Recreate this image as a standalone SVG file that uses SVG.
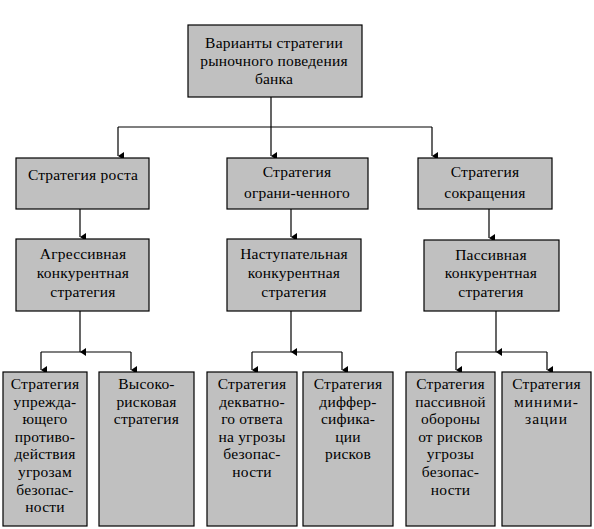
<svg xmlns="http://www.w3.org/2000/svg" width="594" height="529" viewBox="0 0 594 529">
<style>
.box{fill:#C0C0C0;stroke:#000;stroke-width:1.2}
.t{font-family:'Liberation Serif','Times New Roman',serif;font-size:15.5px;letter-spacing:0.2px;fill:#000;text-anchor:middle}
.ln{fill:none;stroke:#000;stroke-width:1.2}
</style>
<defs>
<marker id="ah" markerUnits="userSpaceOnUse" markerWidth="10" markerHeight="8" viewBox="0 0 10 8" refX="5" refY="7" orient="auto-start-reverse">
<path d="M1,1 L9,1 L5,7 Z" fill="#000"/>
</marker>
</defs>
<rect width="594" height="529" fill="#fff"/>
<g id="connectors">
<path class="ln" d="M271,97 V127 M118,127 H432"/>
<path class="ln" d="M118,127 V156" marker-end="url(#ah)"/>
<path class="ln" d="M271,127 V156" marker-end="url(#ah)"/>
<path class="ln" d="M432,127 V156" marker-end="url(#ah)"/>
<path class="ln" d="M80,209 V237" marker-end="url(#ah)"/>
<path class="ln" d="M291,209 V237" marker-end="url(#ah)"/>
<path class="ln" d="M489,209 V238" marker-end="url(#ah)"/>
<path class="ln" d="M80,311 V352" marker-end="url(#ah)"/>
<path class="ln" d="M291,311 V352" marker-end="url(#ah)"/>
<path class="ln" d="M496,311 V352" marker-end="url(#ah)"/>
<path class="ln" d="M41,352 H131 M252,352 H342 M456,352 H547"/>
<path class="ln" d="M41,352 V370" marker-end="url(#ah)"/>
<path class="ln" d="M131,352 V370" marker-end="url(#ah)"/>
<path class="ln" d="M252,352 V370" marker-end="url(#ah)"/>
<path class="ln" d="M342,352 V370" marker-end="url(#ah)"/>
<path class="ln" d="M456,352 V370" marker-end="url(#ah)"/>
<path class="ln" d="M547,352 V370" marker-end="url(#ah)"/>
</g>
<g id="root">
<rect class="box" x="188" y="25" width="174" height="72"/>
<text class="t"><tspan x="274" y="48">Варианты стратегии</tspan><tspan x="274" y="66">рыночного поведения</tspan><tspan x="274" y="84">банка</tspan></text>
</g>
<g id="growth">
<rect class="box" x="16" y="158" width="133" height="51"/>
<text class="t"><tspan x="83" y="180">Стратегия роста</tspan></text>
</g>
<g id="limited">
<rect class="box" x="227" y="158" width="141" height="51"/>
<text class="t"><tspan x="297" y="177">Стратегия</tspan><tspan x="297" y="198">ограни-ченного</tspan></text>
</g>
<g id="reduction">
<rect class="box" x="418" y="158" width="134" height="51"/>
<text class="t"><tspan x="485" y="177">Стратегия</tspan><tspan x="485" y="198">сокращения</tspan></text>
</g>
<g id="aggressive">
<rect class="box" x="16" y="239" width="133" height="72"/>
<text class="t"><tspan x="83" y="259">Агрессивная</tspan><tspan x="83" y="278">конкурентная</tspan><tspan x="83" y="297">стратегия</tspan></text>
</g>
<g id="offensive">
<rect class="box" x="227" y="239" width="134" height="72"/>
<text class="t"><tspan x="294" y="259">Наступательная</tspan><tspan x="294" y="278">конкурентная</tspan><tspan x="294" y="297">стратегия</tspan></text>
</g>
<g id="passive">
<rect class="box" x="424" y="240" width="135" height="71"/>
<text class="t"><tspan x="491" y="260">Пассивная</tspan><tspan x="491" y="278">конкурентная</tspan><tspan x="491" y="297">стратегия</tspan></text>
</g>
<g id="preempt">
<rect class="box" x="3" y="372" width="84" height="154"/>
<text class="t"><tspan x="45" y="389">Стратегия</tspan><tspan x="45" y="406.6">упрежда-</tspan><tspan x="45" y="424.2">ющего</tspan><tspan x="45" y="441.8">противо-</tspan><tspan x="45" y="459.4">действия</tspan><tspan x="45" y="477">угрозам</tspan><tspan x="45" y="494.6">безопас-</tspan><tspan x="45" y="512.2">ности</tspan></text>
</g>
<g id="highrisk">
<rect class="box" x="99" y="372" width="95" height="154"/>
<text class="t"><tspan x="146.5" y="389">Высоко-</tspan><tspan x="146.5" y="406.6">рисковая</tspan><tspan x="146.5" y="424.2">стратегия</tspan></text>
</g>
<g id="adequate">
<rect class="box" x="207" y="372" width="90" height="154"/>
<text class="t"><tspan x="252" y="389">Стратегия</tspan><tspan x="252" y="406.6">декватно-</tspan><tspan x="252" y="424.2">го ответа</tspan><tspan x="252" y="441.8">на угрозы</tspan><tspan x="252" y="459.4">безопас-</tspan><tspan x="252" y="477">ности</tspan></text>
</g>
<g id="diversify">
<rect class="box" x="303" y="372" width="90" height="154"/>
<text class="t"><tspan x="348" y="389">Стратегия</tspan><tspan x="348" y="406.6">диффер-</tspan><tspan x="348" y="424.2">сифика-</tspan><tspan x="348" y="441.8">ции</tspan><tspan x="348" y="459.4">рисков</tspan></text>
</g>
<g id="passivedef">
<rect class="box" x="406" y="372" width="89" height="154"/>
<text class="t"><tspan x="450.5" y="389">Стратегия</tspan><tspan x="450.5" y="406.6">пассивной</tspan><tspan x="450.5" y="424.2">обороны</tspan><tspan x="450.5" y="441.8">от рисков</tspan><tspan x="450.5" y="459.4">угрозы</tspan><tspan x="450.5" y="477">безопас-</tspan><tspan x="450.5" y="494.6">ности</tspan></text>
</g>
<g id="minimize">
<rect class="box" x="502" y="372" width="89" height="154"/>
<text class="t"><tspan x="546.5" y="389">Стратегия</tspan><tspan x="546.5" y="406.6" letter-spacing="1">миними-</tspan><tspan x="546.5" y="424.2" letter-spacing="1">зации</tspan></text>
</g>
</svg>
